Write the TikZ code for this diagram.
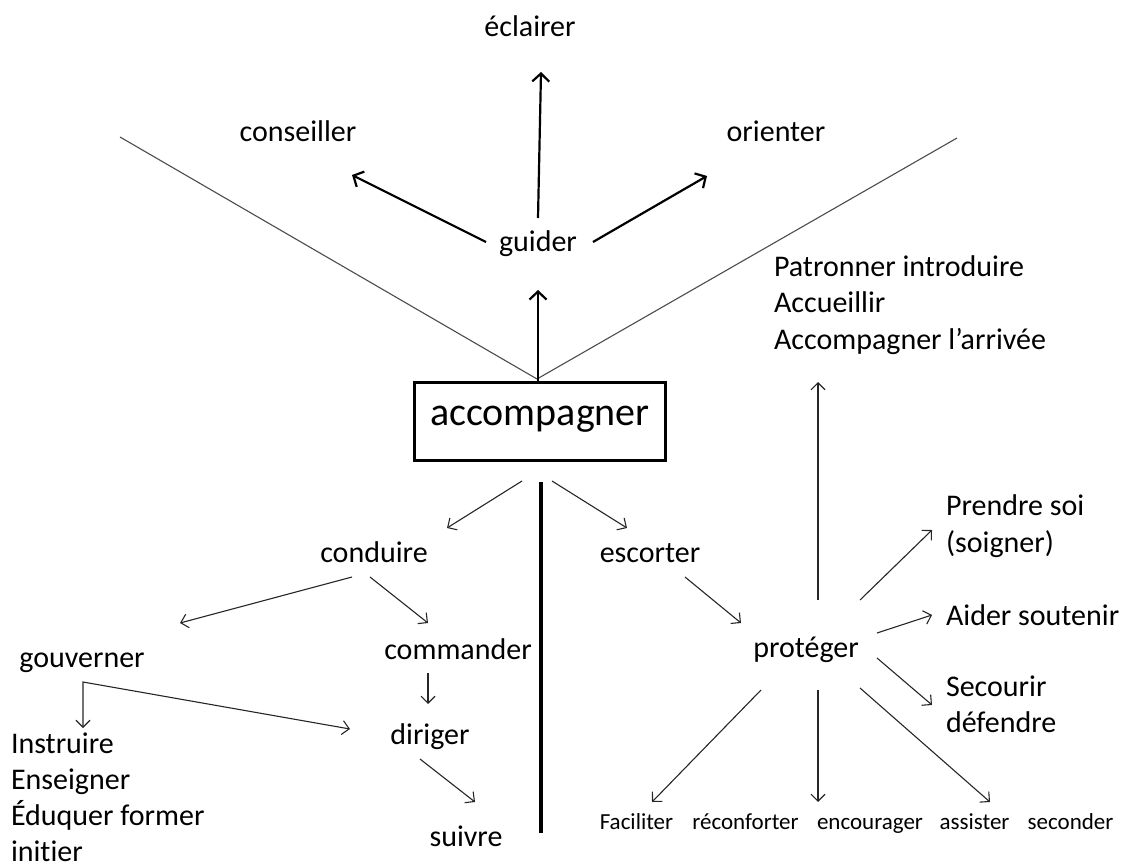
\documentclass[tikz,border=0pt]{standalone}
\usepackage{fontspec}
\setmainfont{Carlito}[Ligatures=NoCommon]
\usetikzlibrary{arrows.meta,calc}
\begin{document}
\begin{tikzpicture}[x=1pt,y=-1pt,
  every node/.style={inner sep=0pt,outer sep=0pt,font=\fontsize{30}{36.5}\selectfont},
  word/.style={text height=21pt,text depth=3pt},
  small/.style={font=\fontsize{23}{28}\selectfont,text height=16pt,text depth=2pt},
  block/.style={align=left,anchor=west},
  mainbox/.style={draw,line width=3pt,minimum width=251pt,minimum height=78pt,
    font=\fontsize{40}{48}\selectfont,text height=20pt,text depth=13pt},
  bigarrow/.style={line width=2.2pt,-{Straight Barb[length=8pt,width=17pt]}},
  arrow/.style={line width=1.1pt,black!85,-{Straight Barb[length=7pt,width=14pt]}},
  fan/.style={line width=1.1pt,black!70},
  axis/.style={line width=3.6pt}]
\useasboundingbox (0,0) rectangle (1131,866);

% centre and upper branch
\node[mainbox] (acc) at (540,421.5) {accompagner};
\node[word] (guider) at (538,243) {guider};
\node[word] (eclairer) at (530,28) {éclairer};
\node[word] (conseiller) at (298,133) {conseiller};
\node[word] (orienter) at (776,133) {orienter};

% left branch
\node[word] (conduire) at (374,553) {conduire};
\node[word] (gouverner) at (82,658) {gouverner};
\node[word] (commander) at (458,650) {commander};
\node[word] (diriger) at (430,735) {diriger};
\node[word] (suivre) at (466,837) {suivre};
\node[block,font=\fontsize{30}{36}\selectfont] (instr) at (11,797) {Instruire\\Enseigner\\Éduquer former\\initier};

% right branch
\node[word] (escorter) at (650,553) {escorter};
\node[word] (proteger) at (806,648) {protéger};
\node[block] (patr) at (774,305) {Patronner introduire\\Accueillir\\Accompagner l’arrivée};
\node[block] (prendre) at (946,526) {Prendre soi\\(soigner)};
\node[word,anchor=west] (aider) at (946,616) {Aider soutenir};
\node[block] (secourir) at (946,704.5) {Secourir\\défendre};
\node[small] (faciliter) at (636.5,822) {Faciliter};
\node[small] (reconforter) at (745.5,822) {réconforter};
\node[small] (encourager) at (870,822) {encourager};
\node[small] (assister) at (974.5,822) {assister};
\node[small] (seconder) at (1070.5,822) {seconder};

% free ends of the fan and of the dividing axis
\coordinate (fanL) at (120,137);
\coordinate (fanR) at (957,138);
\coordinate (axisEnd) at (541,833);

% fan lines and dividing axis
\draw[fan] ($(acc.north)+(-3,-3.5)$) -- (fanL);
\draw[fan] ($(acc.north)+(-3,-3.5)$) -- (fanR);
\draw[axis] ($(acc.south)+(1,21.5)$) -- (axisEnd);

% guider and its three directions
\draw[bigarrow] ($(acc.north)+(-2,-1)$) -- ($(guider)+(0,47)$);
\draw[bigarrow] ($(guider)+(0,-25)$) -- ($(eclairer)+(11,44)$);
\draw[bigarrow] ($(guider)+(-52,-1)$) -- ($(conseiller)+(54,42)$);
\draw[bigarrow] ($(guider)+(55,-1)$) -- ($(orienter)+(-69,43)$);

% left branch arrows
\draw[arrow] ($(acc.south)+(-18,20.5)$) -- ($(conduire)+(73,-25)$);
\draw[arrow] ($(conduire)+(-22,24)$) -- ($(gouverner)+(98,-35)$);
\draw[arrow] ($(conduire)+(-4,24)$) -- ($(commander)+(-30,-27)$);
\draw[arrow] ($(commander)+(-30,23)$) -- ($(diriger)+(-2,-31)$);
\draw[arrow,{Straight Barb[length=7pt,width=14pt]}-{Straight Barb[length=7pt,width=14pt]}]
  ($(instr.west)+(72,-69)$) -- ($(gouverner)+(1,24)$) -- ($(diriger)+(-80,-6)$);
\draw[arrow] ($(diriger)+(-10,24)$) -- ($(suivre)+(9,-35)$);

% right branch arrows
\draw[arrow] ($(acc.south)+(12,20.5)$) -- ($(escorter)+(-23,-25)$);
\draw[arrow] ($(escorter)+(35,24)$) -- ($(proteger)+(-65,-25)$);
\draw[arrow] ($(proteger)+(12,-48)$) -- ($(patr.west)+(44,77)$);
\draw[arrow] ($(proteger)+(54,-48)$) -- ($(prendre.west)+(-14,4)$);
\draw[arrow] ($(proteger)+(71,-15)$) -- ($(aider.west)+(-14,-1)$);
\draw[arrow] ($(proteger)+(71,10)$) -- ($(secourir.west)+(-14,0.5)$);
\draw[arrow] ($(proteger)+(-45,42)$) -- ($(faciliter)+(15.5,-20)$);
\draw[arrow] ($(proteger)+(12,42)$) -- ($(encourager)+(-52,-20)$);
\draw[arrow] ($(proteger)+(54,40)$) -- ($(assister)+(15.5,-20)$);
\end{tikzpicture}
\end{document}
